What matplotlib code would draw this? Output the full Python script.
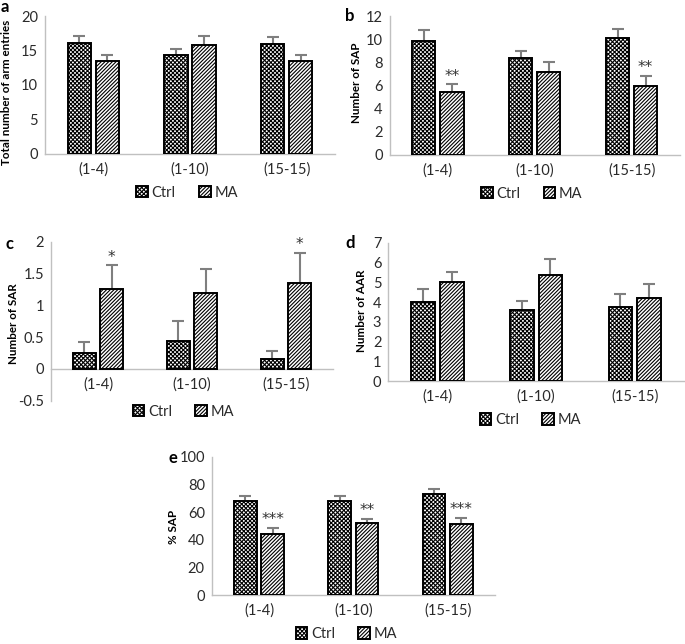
import matplotlib
matplotlib.use("Agg")
import matplotlib.pyplot as plt
import numpy as np

plt.rcParams['font.family'] = ['Lato', 'DejaVu Sans']
plt.rcParams['hatch.linewidth'] = 0.8

groups = ['(1-4)', '(1-10)', '(15-15)']

# a: total arm entries
a_ctrl = [16.1, 14.4, 16.0]
a_ctrl_err = [1.0, 0.8, 0.9]
a_ma = [13.5, 15.8, 13.5]
a_ma_err = [0.9, 1.3, 0.8]

# b: SAP
b_ctrl = [9.8, 8.4, 10.1]
b_ctrl_err = [1.0, 0.55, 0.8]
b_ma = [5.4, 7.2, 6.0]
b_ma_err = [0.7, 0.8, 0.85]
b_stars = ['**', '', '**']

# c: SAR
c_ctrl = [0.25, 0.44, 0.15]
c_ctrl_err = [0.17, 0.31, 0.14]
c_ma = [1.26, 1.2, 1.35]
c_ma_err = [0.37, 0.37, 0.48]
c_stars = ['*', '', '*']

# d: AAR
d_ctrl = [4.0, 3.6, 3.75]
d_ctrl_err = [0.65, 0.48, 0.68]
d_ma = [5.0, 5.35, 4.2]
d_ma_err = [0.5, 0.85, 0.72]

# e: % SAP
e_ctrl = [68.0, 68.3, 73.4]
e_ctrl_err = [3.9, 3.6, 3.6]
e_ma = [44.5, 52.2, 51.4]
e_ma_err = [4.3, 2.8, 4.6]
e_stars = ['***', '**', '***']

W, H = 685, 644
fig = plt.figure(figsize=(W / 100, H / 100), dpi=100)

txt = '#333333'
spine = '#c0c0c0'


def px_axes(left, top, right, bottom):
    return fig.add_axes([left / W, 1 - bottom / H, (right - left) / W, (bottom - top) / H])


def panel(ax, ctrl, ctrl_err, ma, ma_err, ylim, yticks, ylabel, lab_xy,
          legend_xy, stars=None, zero_axis=False):
    x = np.arange(len(groups))
    off, bw = 0.145, 0.24
    ax.bar(x - off, ctrl, bw, facecolor='white', edgecolor='black', hatch='xxxxxxxx',
           linewidth=1.4, label='Ctrl', zorder=3)
    ax.bar(x + off, ma, bw, facecolor='white', edgecolor='black', hatch='/////////',
           linewidth=1.4, label='MA', zorder=3)
    ax.errorbar(x - off, ctrl, yerr=ctrl_err, fmt='none', ecolor='#7f7f7f',
                elinewidth=1.5, capsize=4, capthick=1.5, zorder=2)
    ax.errorbar(x + off, ma, yerr=ma_err, fmt='none', ecolor='#7f7f7f',
                elinewidth=1.5, capsize=4, capthick=1.5, zorder=2)
    if stars:
        for i, s in enumerate(stars):
            if s:
                ax.annotate(s, (x[i] + off, ma[i] + ma_err[i]), xytext=(0, 0.5),
                            textcoords='offset points', ha='center', va='bottom',
                            fontsize=11, color=txt, family='DejaVu Sans')
    ax.set_xlim(-0.5, len(groups) - 0.5)
    ax.set_ylim(*ylim)
    ax.set_yticks(yticks)
    ax.set_yticklabels([('%g' % t) for t in yticks])
    ax.set_xticks(x)
    ax.set_xticklabels(groups)
    ax.tick_params(length=0, labelsize=10.5, colors='#2a2a2a', pad=6)
    ax.tick_params(axis='y', pad=5)
    for s in ['top', 'right']:
        ax.spines[s].set_visible(False)
    for s in ['left', 'bottom']:
        ax.spines[s].set_color(spine)
        ax.spines[s].set_linewidth(1.0)
    if zero_axis:
        ax.spines['bottom'].set_position(('data', 0))
    ax.set_ylabel(ylabel, fontsize=8.4, fontweight='bold', color='black')
    ax.yaxis.set_label_coords(*lab_xy)
    ax.legend(loc='center', bbox_to_anchor=legend_xy, ncol=2, frameon=False,
              fontsize=10.5, handlelength=0.8, handleheight=0.8,
              handletextpad=0.25, columnspacing=1.6, labelcolor='#2a2a2a')


ax_a = px_axes(45, 16, 335, 154)
panel(ax_a, a_ctrl, a_ctrl_err, a_ma, a_ma_err, (0, 20), [0, 5, 10, 15, 20],
      'Total number of arm entries', (-0.114, 0.445), (0.49, -0.28))

ax_b = px_axes(389.5, 16, 680, 155)
panel(ax_b, b_ctrl, b_ctrl_err, b_ma, b_ma_err, (0, 12), [0, 2, 4, 6, 8, 10, 12],
      'Number of SAP', (-0.095, 0.52), (0.49, -0.28), stars=b_stars)

ax_c = px_axes(51, 241.7, 333, 400.8)
panel(ax_c, c_ctrl, c_ctrl_err, c_ma, c_ma_err, (-0.5, 2), [-0.5, 0, 0.5, 1, 1.5, 2],
      'Number of SAR', (-0.115, 0.486), (0.47, -0.07), stars=c_stars, zero_axis=True)

ax_d = px_axes(388.3, 242.7, 684, 381.3)
panel(ax_d, d_ctrl, d_ctrl_err, d_ma, d_ma_err, (0, 7), list(range(8)),
      'Number of AAR', (-0.072, 0.51), (0.48, -0.28))

ax_e = px_axes(211.75, 456.7, 495, 595.3)
panel(ax_e, e_ctrl, e_ctrl_err, e_ma, e_ma_err, (0, 100), [0, 20, 40, 60, 80, 100],
      '% SAP', (-0.114, 0.496), (0.475, -0.28), stars=e_stars)

for letter, (lx, ly) in zip('abcde', [(5, 7), (350, 16), (10, 244), (350, 243), (173, 458)]):
    fig.text(lx / W, 1 - ly / H, letter, fontsize=12, fontweight='bold',
             ha='center', va='center')

fig.savefig('out.png', dpi=100)
